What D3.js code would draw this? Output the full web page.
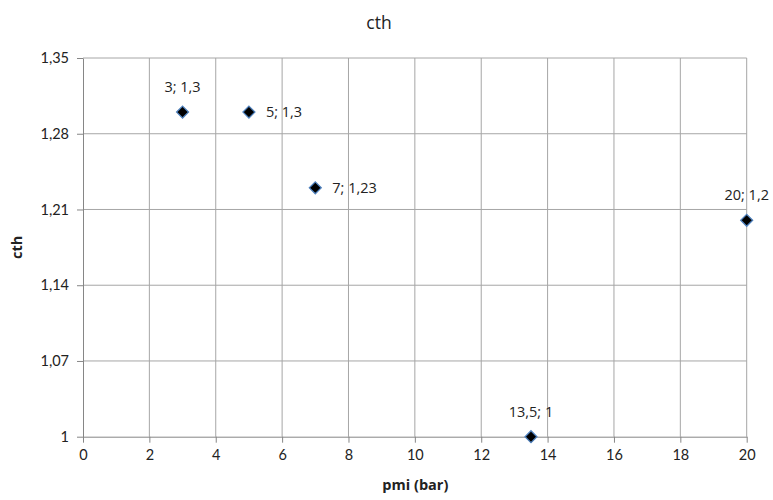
<!DOCTYPE html>
<html>
<head>
<meta charset="utf-8">
<script src="https://cdn.jsdelivr.net/npm/d3@7"></script>
<style>
  body { margin: 0; background: #fff; }
  svg { font-family: "Open Sans", Lato, sans-serif; }
</style>
</head>
<body>
<div id="chart"></div>
<script>
const w = 773;
const h = 500;
const margin = { top: 58, right: 26, bottom: 63, left: 83 };

const pmi = [3, 5, 7, 13.5, 20];
const cth = [1.3, 1.3, 1.23, 1, 1.2];
const pointLabels = ["3; 1,3", "5; 1,3", "7; 1,23", "13,5; 1", "20; 1,2"];
const labelPos = ["above", "right", "right", "above", "above"];
const xTicks = [0, 2, 4, 6, 8, 10, 12, 14, 16, 18, 20];
const yTicks = [1, 1.07, 1.14, 1.21, 1.28, 1.35];

const points = pmi.map((x, i) => ({ x, y: cth[i], label: pointLabels[i], pos: labelPos[i] }));
const fmt = (d) => String(d).replace(".", ",");
const font = "Lato, 'Open Sans', sans-serif";

const svg = d3.select("#chart").append("svg").attr("width", w).attr("height", h)
  .attr("font-family", font);

const xScale = d3.scaleLinear().domain([0, 20]).range([margin.left, w - margin.right - 0.3]);
const yScale = d3.scaleLinear().domain([1, 1.35]).range([h - margin.bottom - 0.3, margin.top]);

// grid
svg.append("g")
  .selectAll("line")
  .data(xTicks.slice(1))
  .enter()
  .append("line")
  .attr("x1", (d) => xScale(d))
  .attr("x2", (d) => xScale(d))
  .attr("y1", yScale(1.35))
  .attr("y2", yScale(1))
  .attr("stroke", "#a6a6a6");

svg.append("g")
  .selectAll("line")
  .data(yTicks.slice(1))
  .enter()
  .append("line")
  .attr("x1", xScale(0))
  .attr("x2", xScale(20))
  .attr("y1", (d) => yScale(d))
  .attr("y2", (d) => yScale(d))
  .attr("stroke", "#a6a6a6");

const xAxis = svg.append("g")
  .attr("transform", `translate(0, ${yScale(1)})`)
  .call(d3.axisBottom(xScale).tickValues(xTicks).tickSize(6).tickSizeOuter(0).tickPadding(5));

const yAxis = svg.append("g")
  .attr("transform", `translate(${xScale(0)}, 0)`)
  .call(d3.axisLeft(yScale).tickValues(yTicks).tickFormat(fmt).tickSize(6).tickSizeOuter(0).tickPadding(8));

[xAxis, yAxis].forEach((ax) => {
  ax.select(".domain").attr("stroke", "#868686");
  ax.selectAll(".tick line").attr("stroke", "#868686");
  ax.selectAll(".tick text").attr("font-size", 14.5).attr("fill", "#222").attr("font-family", font);
});
xAxis.selectAll(".tick text").attr("dy", "0.85em");

// title & axis titles
svg.append("text")
  .attr("x", 379)
  .attr("y", 29)
  .attr("text-anchor", "middle")
  .attr("font-size", 17.5)
  .attr("fill", "#222")
  .text("cth");

svg.append("text")
  .attr("x", xScale(10) + 0.5)
  .attr("y", 490)
  .attr("text-anchor", "middle")
  .attr("font-size", 14.5)
  .attr("font-weight", "bold")
  .attr("fill", "#222")
  .text("pmi (bar)");

svg.append("text")
  .attr("transform", `translate(22, ${yScale(1.175)}) rotate(-90)`)
  .attr("text-anchor", "middle")
  .attr("font-size", 14.5)
  .attr("font-weight", "bold")
  .attr("fill", "#222")
  .text("cth");

// points
const diamond = d3.symbol().type(d3.symbolDiamond2).size(90);
svg.append("g")
  .selectAll("path")
  .data(points)
  .enter()
  .append("path")
  .attr("d", diamond)
  .attr("transform", (d) => `translate(${xScale(d.x)}, ${yScale(d.y)})`)
  .attr("fill", "#000")
  .attr("stroke", "#4f81bd")
  .attr("stroke-width", 1.3);

svg.append("g")
  .selectAll("text")
  .data(points)
  .enter()
  .append("text")
  .attr("x", (d) => (d.pos === "right" ? xScale(d.x) + 17 : xScale(d.x)))
  .attr("y", (d) => (d.pos === "right" ? yScale(d.y) + 5 : yScale(d.y) - 20))
  .attr("text-anchor", (d) => (d.pos === "right" ? "start" : "middle"))
  .attr("font-size", 14.5)
  .attr("fill", "#222")
  .text((d) => d.label);
</script>
</body>
</html>
